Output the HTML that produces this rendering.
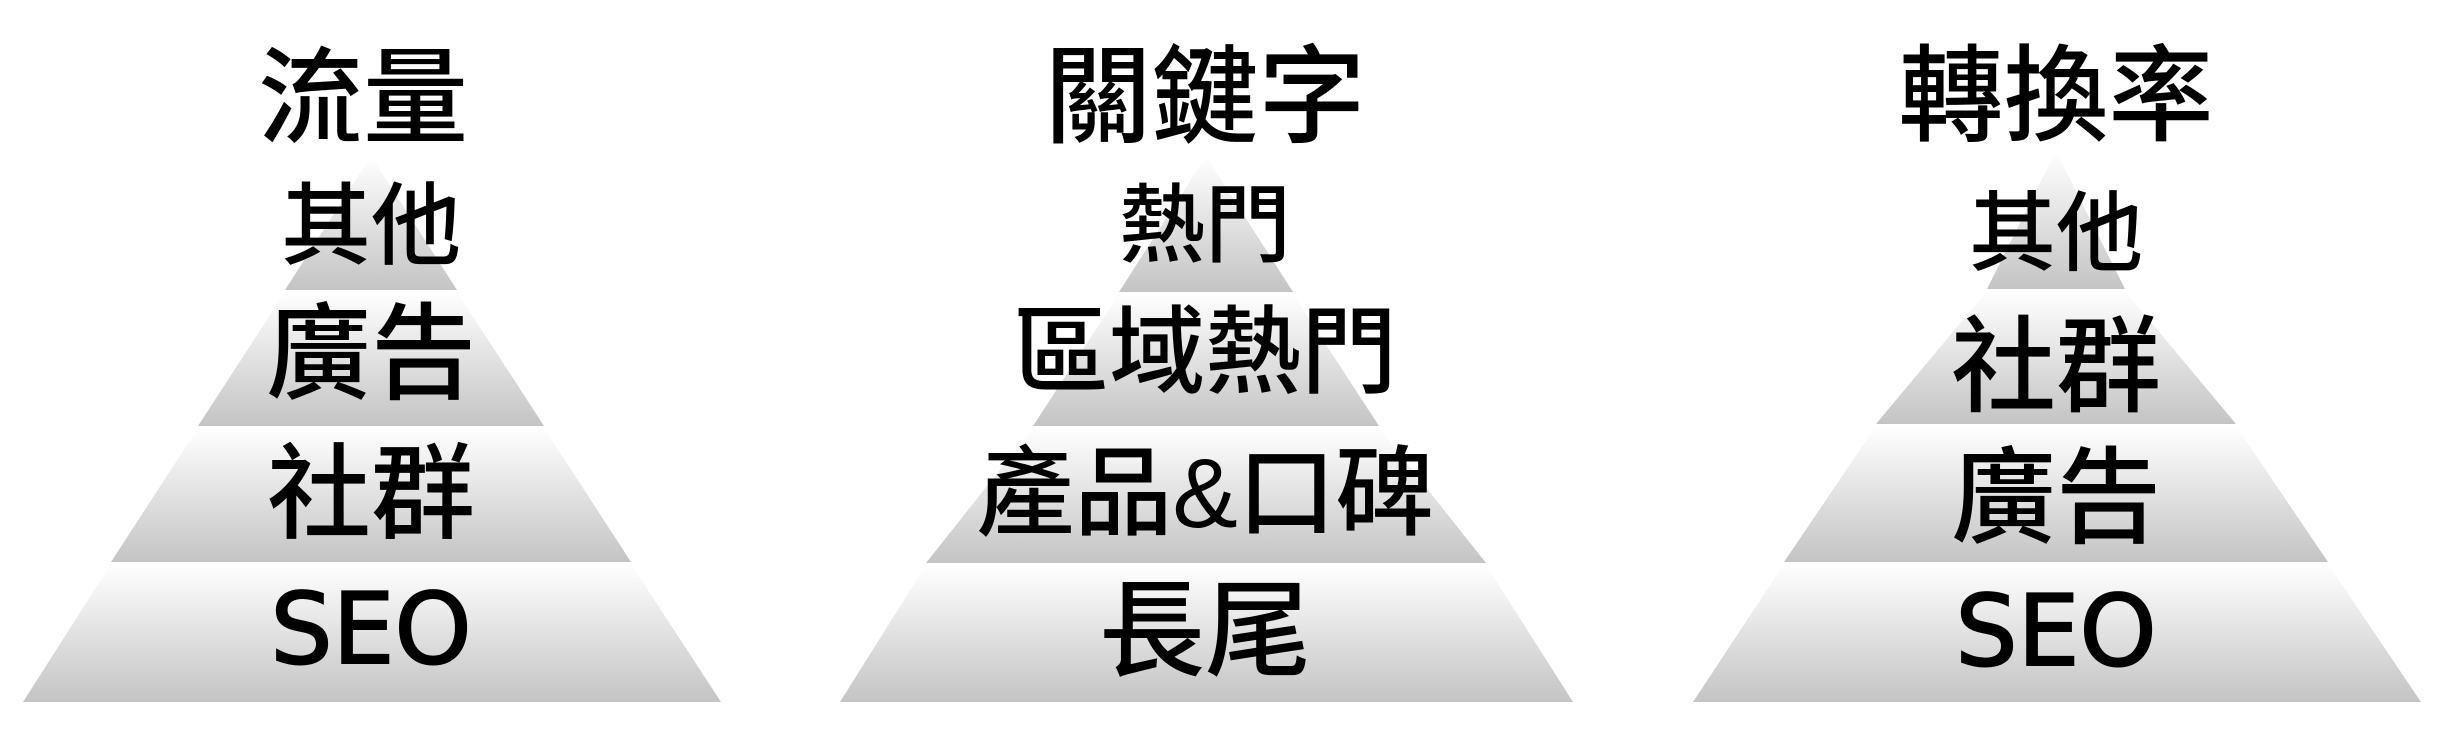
<!DOCTYPE html>
<html><head><meta charset="utf-8"><style>
html,body{margin:0;padding:0;background:#fff;}
svg text{font-family:"Liberation Sans","Noto Sans CJK TC",sans-serif;font-weight:500;fill:#000;text-anchor:middle;dominant-baseline:central;}
svg text.e{font-family:"DejaVu Sans","Liberation Sans",sans-serif;font-weight:normal;stroke:#000;stroke-width:2;}
</style></head><body>
<svg width="2447" height="725" viewBox="0 0 2447 725" xmlns="http://www.w3.org/2000/svg">
<defs>
<linearGradient id="g" x1="0" y1="0" x2="0" y2="1">
<stop offset="0" stop-color="#ffffff"/><stop offset="1" stop-color="#c4c4c4"/>
</linearGradient>
</defs>
<g fill="url(#g)">
<polygon points="371,156 457,290 285,290"/>
<polygon points="285,292 457,292 544,426 198,426"/>
<polygon points="198,428 544,428 631,562 111,562"/>
<polygon points="111,564 631,564 721,702 23,702"/>
<polygon points="1206,156 1293,292 1119,292"/>
<polygon points="1119,294 1293,294 1379,426 1033,426"/>
<polygon points="1033,428 1379,428 1486,563 926,563"/>
<polygon points="926,565 1486,565 1573,702 840,702"/>
<polygon points="2056,151 2125,289 1987,289"/>
<polygon points="1987,291 2125,291 2236,424 1876,424"/>
<polygon points="1876,426 2236,426 2328,562 1784,562"/>
<polygon points="1784,564 2328,564 2421,702 1693,702"/>
</g>
<text x="363" y="99" font-size="105">流量</text>
<text x="1205" y="97" font-size="107">關鍵字</text>
<text x="2056" y="97" font-size="105">轉換率</text>

<text x="371" y="227" font-size="90">其他</text>
<text x="371" y="355" font-size="105">廣告</text>
<text x="371" y="495" font-size="104">社群</text>
<text class="e" x="371" y="630" font-size="98">SEO</text>

<text x="1205" y="226" font-size="86">熱門</text>
<text x="1205" y="353" font-size="96">區域熱門</text>
<text x="1205" y="493" font-size="98">產品&amp;口碑</text>
<text x="1205" y="632" font-size="106">長尾</text>

<text x="2056" y="234" font-size="87">其他</text>
<text x="2056" y="368" font-size="105">社群</text>
<text x="2056" y="499" font-size="105">廣告</text>
<text class="e" x="2056" y="632" font-size="98">SEO</text>
</svg>
</body></html>
